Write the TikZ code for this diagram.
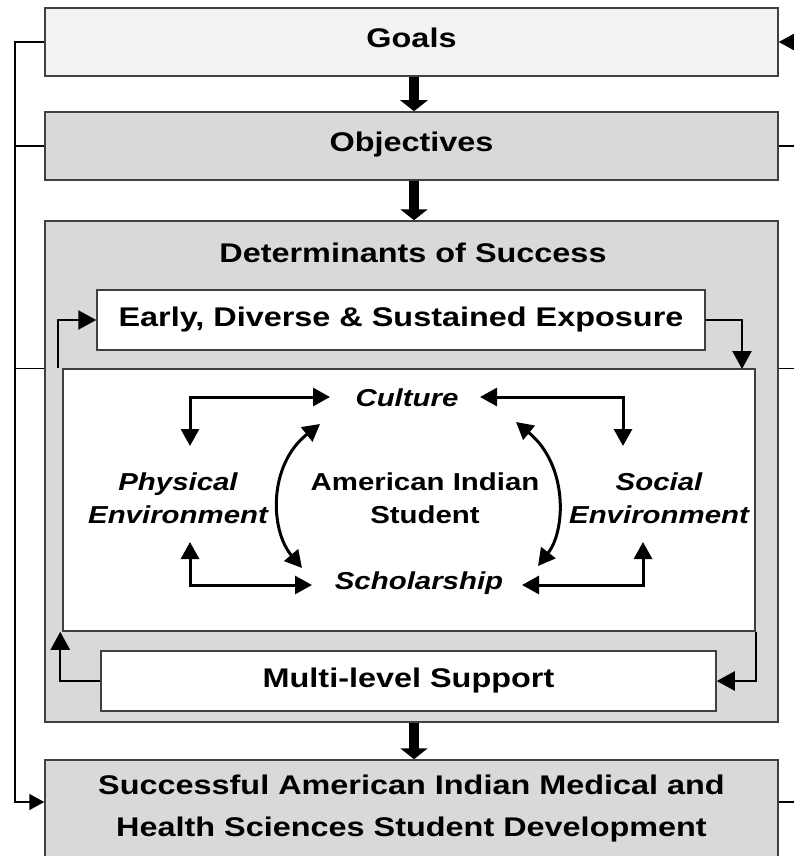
\documentclass[tikz,border=0pt]{standalone}
\usepackage{fontspec}
\setmainfont{Liberation Sans}[FakeStretch=1.2]
\usetikzlibrary{arrows.meta}
\definecolor{boxline}{HTML}{404040}
\definecolor{lightfill}{HTML}{F2F2F2}
\definecolor{midfill}{HTML}{D9D9D9}

\begin{document}
\begin{tikzpicture}[x=1pt,y=-1pt,
  box/.style={draw=boxline, line width=1.5pt, inner sep=0pt, align=center,
    font=\fontsize{27}{42}\selectfont\bfseries},
  raised/.style={text height=19pt, text depth=8pt},
  midtext/.style={inner sep=0pt, align=center, font=\fontsize{24.5}{33}\selectfont\bfseries},
  itext/.style={inner sep=0pt, align=center, font=\fontsize{24.5}{33}\selectfont\bfseries\itshape},
  thinline/.style={black, line width=1.5pt},
  smallhead/.style={-{Triangle[length=15pt,width=16pt]}},
  loopline/.style={black, line width=2.4pt, -{Triangle[length=18pt,width=19pt]}},
  linkline/.style={black, line width=3pt,
    {Triangle[length=17pt,width=18pt]}-{Triangle[length=17pt,width=18pt]}},
  bigarrow/.style={black, line width=10pt, -{Triangle[length=11pt,width=27pt]}}
]
\useasboundingbox (0,0) rectangle (794,856);
\clip (0,0) rectangle (794,856);
\fill[white] (0,0) rectangle (794,856);

% main column
\node[box, raised, fill=lightfill, minimum width=733pt, minimum height=68pt] (goals) at (411.5,42) {Goals};
\node[box, raised, fill=midfill, minimum width=733pt, minimum height=68pt] (obj) at (411.5,146) {Objectives};
\node[box, fill=midfill, minimum width=733pt, minimum height=501pt] (det) at (411.5,471.5) {};
\node[box, fill=midfill, minimum width=733pt, minimum height=98pt] (succ) at (411.5,809)
  {Successful American Indian Medical and\\Health Sciences Student Development};

% inside the determinants block
\node[box, draw=none, fill=none] (dettitle) at (413,253) {Determinants of Success};
\node[box, fill=white, minimum width=608pt, minimum height=60pt] (early) at (401,320)
  {Early, Diverse \& Sustained Exposure};
\node[box, fill=white, minimum width=692pt, minimum height=262pt] (inner) at (409,500) {};
\node[box, fill=white, minimum width=615pt, minimum height=60pt] (multi) at (408.5,681)
  {Multi-level Support};

% the student and the four determinants around it
\node[itext] (culture) at (407,398) {Culture};
\node[itext] (phys) at (178,498) {Physical\\Environment};
\node[midtext] (ais) at (425,498) {American Indian\\Student};
\node[itext] (social) at (659,498) {Social\\Environment};
\node[itext] (schol) at (419,583) {Scholarship};

% block arrows down the column
\draw[bigarrow] ([xshift=2.5pt]goals.south) -- ([xshift=2.5pt]obj.north);
\draw[bigarrow] ([xshift=2.5pt]obj.south) -- ([xshift=2.5pt]det.north);
\draw[bigarrow] ([xshift=2.5pt]det.south) -- ([xshift=2.5pt]succ.north);

% outer feedback lines
\coordinate (lbend) at (15,802);
\coordinate (rEdge) at (796,0);
\draw[thinline, smallhead] (goals.west) -| (lbend) -- ([yshift=7pt]succ.west);
\draw[thinline] (obj.west) -- ++(-30,0);
\draw[thinline] (det.west |- inner.north) -- ++(-30,0);
\draw[thinline, smallhead] (goals.east -| rEdge) -- (goals.east);
\draw[thinline] (obj.east) -- (obj.east -| rEdge);
\draw[thinline] (det.east |- inner.north) -- (inner.north -| rEdge);
\draw[thinline] ([yshift=7pt]succ.east) -- ([yshift=7pt]succ.east -| rEdge);

% exposure / support cycle
\coordinate (eDown) at (742,369);
\draw[loopline] (early.east) -| (eDown);
\draw[loopline] (inner.south east) |- (multi.east);
\draw[loopline] (multi.west) -| ([xshift=-2pt]inner.south west);
\draw[loopline] ([xshift=-4pt]inner.north west) |- (early.west);

% links between the determinants
\coordinate (cL) at (330,397);
\coordinate (pT) at (190,446);
\coordinate (cR) at (480,397);
\coordinate (sT) at (623,446);
\coordinate (pB) at (190,542);
\coordinate (sL) at (312,585);
\coordinate (sB) at (643,542);
\coordinate (sR) at (522,585);
\draw[linkline] (cL) -| (pT);
\draw[linkline] (cR) -| (sT);
\draw[linkline] (pB) |- (sL);
\draw[linkline] (sB) |- (sR);

\coordinate (cuA) at (320,424);
\coordinate (scA) at (302,568);
\coordinate (cuB) at (516,422);
\coordinate (scB) at (538,566);
\draw[linkline] (cuA) .. controls (268,465) and (270,530) .. (scA);
\draw[linkline] (cuB) .. controls (568,465) and (566,530) .. (scB);
\end{tikzpicture}
\end{document}
